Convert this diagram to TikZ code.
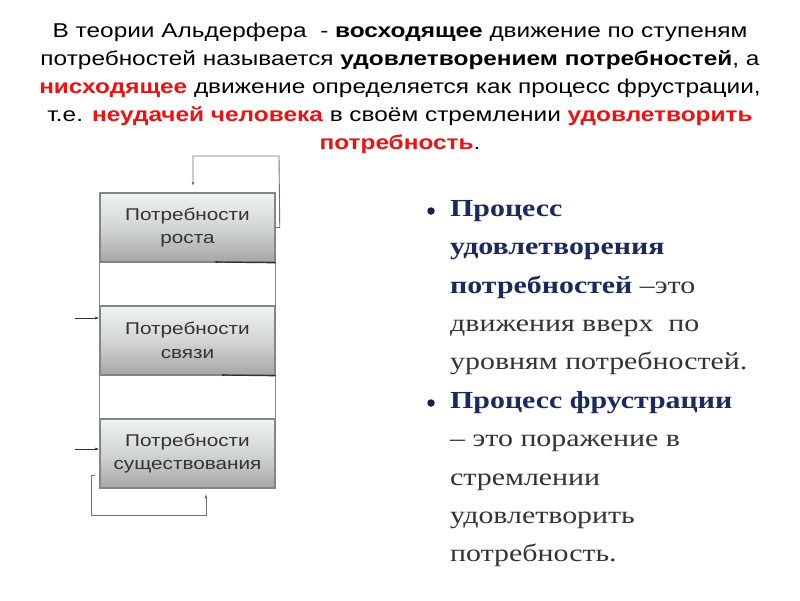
\documentclass[tikz,border=0pt]{standalone}
\usepackage{fontspec}
\setmainfont{Liberation Sans}[FakeStretch=1.22]
\newfontfamily\rserif{Liberation Serif}[FakeStretch=1.22]
\usetikzlibrary{arrows.meta}
\definecolor{navy}{HTML}{1B2A5E}
\definecolor{bodytxt}{HTML}{333333}
\definecolor{redtxt}{HTML}{EE1111}
\definecolor{boxline}{HTML}{858585}
\definecolor{conn}{HTML}{707070}
\definecolor{darkconn}{HTML}{303030}
\tikzset{
  needbox/.style={draw=boxline, line width=1.5pt, minimum width=175pt, minimum height=69pt,
    top color={rgb,255:red,238;green,243;blue,244}, bottom color={rgb,255:red,165;green,165;blue,165},
    middle color={rgb,255:red,210;green,213;blue,214},
    align=center, text=bodytxt, font=\fontsize{17}{23.5}\selectfont, inner sep=0pt},
  sideline/.style={draw=boxline, line width=1.2pt},
  loopline/.style={draw=conn, line width=0.9pt, -{Latex[length=4pt,width=3pt]}},
  inarrow/.style={draw=darkconn, line width=1pt, -{Latex[length=4pt,width=3pt]}},
  botline/.style={draw=darkconn, line width=1.2pt, -{Latex[length=3pt,width=2.5pt]}},
  title/.style={align=center, font=\fontsize{20}{28}\selectfont, text=black},
  rtext/.style={anchor=north west, align=left, font=\rserif\fontsize{24.5}{38.4}\selectfont, text=bodytxt, inner sep=0pt},
  bulletdot/.style={circle, fill=navy!80!black, minimum size=7.5pt, inner sep=0pt}
}
\begin{document}
\begin{tikzpicture}[x=1pt,y=-1pt]
\useasboundingbox (0,0) rectangle (800,600);
\fill[white] (0,0) rectangle (800,600);

% title
\node[title] (ttl) at (400,88) {%
В теории Альдерфера \ - \textbf{восходящее} движение по ступеням\\
потребностей называется \textbf{удовлетворением потребностей}, а\\
\textcolor{redtxt}{\textbf{нисходящее}} движение определяется как процесс фрустрации,\\
т.е. \textcolor{redtxt}{\textbf{неудачей человека}} в своём стремлении \textcolor{redtxt}{\textbf{удовлетворить}}\\
\textcolor{redtxt}{\textbf{потребность}}.};

% boxes
\node[needbox] (b1) at (187.5,227.5) {Потребности\\роста};
\node[needbox] (b2) at (187.5,340.5) {Потребности\\связи};
\node[needbox] (b3) at (187.5,453.5) {Потребности\\существования};

% side connectors
\draw[sideline] (b1.south west) -- (b2.north west);
\draw[sideline] (b1.south east) -- (b2.north east);
\draw[sideline] (b2.south west) -- (b3.north west);
\draw[sideline] (b2.south east) -- (b3.north east);

% top loop
\coordinate (t1) at ([xshift=4pt]b1.east);
\coordinate (t2) at (279,156);
\coordinate (t3) at (193,156);
\coordinate (t4) at (193,186);
\draw[loopline] (b1.east) -- (t1) -- (t2) -- (t3) -- (t4);

% lines along box bottoms
\coordinate (m1) at (214,262);
\coordinate (m2) at (221,375);
\draw[botline] (b1.south east) -- (m1);
\draw[botline] (b2.south east) -- (m2);

% left inputs
\coordinate (l2) at (75,318);
\coordinate (l3) at (75,449);
\draw[inarrow] (l2) -- (l2 -| b2.west);
\draw[inarrow] (l3) -- (l3 -| b3.west);

% bottom loop
\coordinate (u0) at (95,475);
\coordinate (u1) at (91,475);
\coordinate (u2) at (91,515);
\coordinate (u3) at (206,515);
\coordinate (u4) at (206,494);
\draw[loopline] (u0) -- (u1) -- (u2) -- (u3) -- (u4);

% right text
\node[bulletdot] (bu1) at (431,211) {};
\node[bulletdot] (bu2) at (431,403) {};
\node[rtext] (rt) at (450,200) {%
\textcolor{navy}{\textbf{Процесс}}\\
\textcolor{navy}{\textbf{удовлетворения}}\\
\textcolor{navy}{\textbf{потребностей}} –это\\
движения вверх \ по\\
уровням потребностей.\\
\textcolor{navy}{\textbf{Процесс фрустрации}}\\
– это поражение в\\
стремлении\\
удовлетворить\\
потребность.};
\end{tikzpicture}
\end{document}
